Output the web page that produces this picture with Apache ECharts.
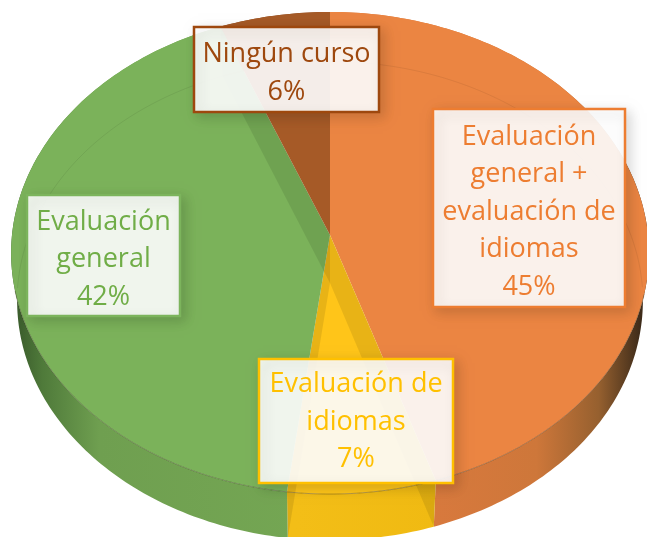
<!DOCTYPE html>
<html>
<head>
<meta charset="utf-8">
<style>
    html,body{margin:0;padding:0;background:#fff;}
    #main{width:647px;height:537px;}
</style>
</head>
<body>
<div id="main"></div>
<script src="https://cdn.jsdelivr.net/npm/echarts@6/dist/echarts.min.js"></script>
<script>
// data, clockwise from 12 o'clock
var categories = ['Evaluación\ngeneral +\nevaluación de\nidiomas', 'Evaluación de\nidiomas', 'Evaluación\ngeneral', 'Ningún curso'];
var values = [45, 7, 42, 6];

// colours per slice
var faceColors = ['#EB8542', '#FFC519', '#7BB25A', '#A65A27'];
var textColors = ['#ED7D31', '#FFC000', '#70AD47', '#9E480E'];
var borderColors = ['#ED7D31', '#FFC000', '#7CB45C', '#9E480E'];

// label boxes [x, y, w, h] and text nudge
var boxes = [[433, 109, 192, 198], [259, 359, 194, 124], [27, 195, 153, 121], [194, 27, 185, 85]];
var textShift = [4, 1, 4, 4];

// walls of the disc, gradient stops along x
var wallStops = [
    [[0, '#D8793D'], [0.5, '#CE773A'], [0.8, '#96602F'], [1, '#3F2C1A']],
    [[0, '#F3BE17'], [1, '#F0BA12']],
    [[0, '#38582A'], [0.1, '#4F7A3A'], [0.3, '#6F9F50'], [1, '#74A653']],
    [[0, '#8A4A20'], [1, '#8A4A20']]
];
var wallRange = [[433, 640], [296, 434], [14, 298], [190, 330]];

// perspective of the disc
var K = 0.0747;
var topPlane = {ax: 330, ay: 235, s: 318, t: 239.7};
var botPlane = {ax: 330, ay: 283, s: 312, t: 238};

var total = values.reduce(function (a, b) { return a + b; }, 0);

function startFrac(i) {
    var sum = 0;
    for (var j = 0; j < i; j++) sum += values[j];
    return sum / total;
}

function proj(plane, frac) {
    var a = frac * Math.PI * 2;
    var X = Math.sin(a), Y = -Math.cos(a), w = 1 - K * Y;
    return [plane.ax + plane.s * X / w, plane.ay + plane.t * Y / w];
}

function arc(plane, f0, f1) {
    var pts = [], n = Math.max(4, Math.ceil((f1 - f0) * 360));
    for (var i = 0; i <= n; i++) pts.push(proj(plane, f0 + (f1 - f0) * i / n));
    return pts;
}

// outer walls, drawn first
function renderWall(params, api) {
    var i = params.dataIndex;
    var f0 = startFrac(i), f1 = f0 + api.value(0) / total;
    var pts = arc(botPlane, f0, f1).concat(arc(topPlane, f0, f1).reverse());
    return {
        type: 'polygon',
        shape: {points: pts},
        style: {
            fill: {
                type: 'linear', global: true,
                x: wallRange[i][0], y: 0, x2: wallRange[i][1], y2: 0,
                colorStops: wallStops[i].map(function (s) { return {offset: s[0], color: s[1]}; })
            }
        }
    };
}

// top face of each slice
function renderFace(params, api) {
    var i = params.dataIndex;
    var f0 = startFrac(i), f1 = f0 + api.value(0) / total;
    var apex = [topPlane.ax, topPlane.ay];
    return {
        type: 'polygon',
        shape: {points: [apex].concat(arc(topPlane, f0, f1))},
        style: {fill: faceColors[i]}
    };
}

// the faint see-through parts: radial walls, far rim of the base, front edge
function renderInner(params, api) {
    var i = params.dataIndex;
    var f0 = startFrac(i), f1 = f0 + api.value(0) / total;
    var a = proj(topPlane, f0), b = proj(botPlane, f0);
    var wall = [[topPlane.ax, topPlane.ay], a, b, [botPlane.ax, botPlane.ay]];
    var far = arc(botPlane, f0, f1).filter(function (p) { return p[1] < 290; });
    var front = arc(topPlane, f0, f1).filter(function (p) { return p[1] > 290; });
    var children = [{
        type: 'polygon',
        shape: {points: wall},
        style: {fill: 'rgba(0,0,0,0.09)'}
    }];
    if (far.length > 1) {
        children.push({
            type: 'polyline',
            shape: {points: far},
            style: {fill: 'none', stroke: 'rgba(0,0,0,0.07)', lineWidth: 1}
        });
    }
    if (front.length > 1) {
        children.push({
            type: 'polyline',
            shape: {points: front},
            style: {fill: 'none', stroke: 'rgba(60,50,30,0.45)', lineWidth: 0.8}
        });
    }
    return {type: 'group', children: children};
}

function renderLabel(params, api) {
    var i = params.dataIndex, b = boxes[i];
    return {
        type: 'group',
        children: [{
            type: 'rect',
            shape: {x: b[0], y: b[1], width: b[2], height: b[3]},
            style: {
                fill: 'rgba(255,255,255,0.9)',
                stroke: borderColors[i],
                lineWidth: 2.5,
                shadowBlur: 12,
                shadowOffsetX: 4,
                shadowOffsetY: 4,
                shadowColor: 'rgba(0,0,0,0.16)'
            }
        }, {
            type: 'text',
            style: {
                x: b[0] + b[2] / 2,
                y: b[1] + b[3] / 2 + textShift[i],
                text: categories[i] + '\n' + api.value(0) + '%',
                fill: textColors[i],
                font: '27px "Open Sans"',
                lineHeight: 37.5,
                align: 'center',
                verticalAlign: 'middle'
            }
        }]
    };
}

function layer(fn, z) {
    return {
        type: 'custom',
        coordinateSystem: 'none',
        silent: true,
        animation: false,
        z: z,
        renderItem: fn,
        data: values.map(function (v) { return [v]; })
    };
}

var chart = echarts.init(document.getElementById('main'));
chart.setOption({
    backgroundColor: '#fff',
    animation: false,
    series: [
        layer(renderWall, 1),
        layer(renderFace, 2),
        layer(renderInner, 3),
        layer(renderLabel, 4)
    ]
});
</script>
</body>
</html>
